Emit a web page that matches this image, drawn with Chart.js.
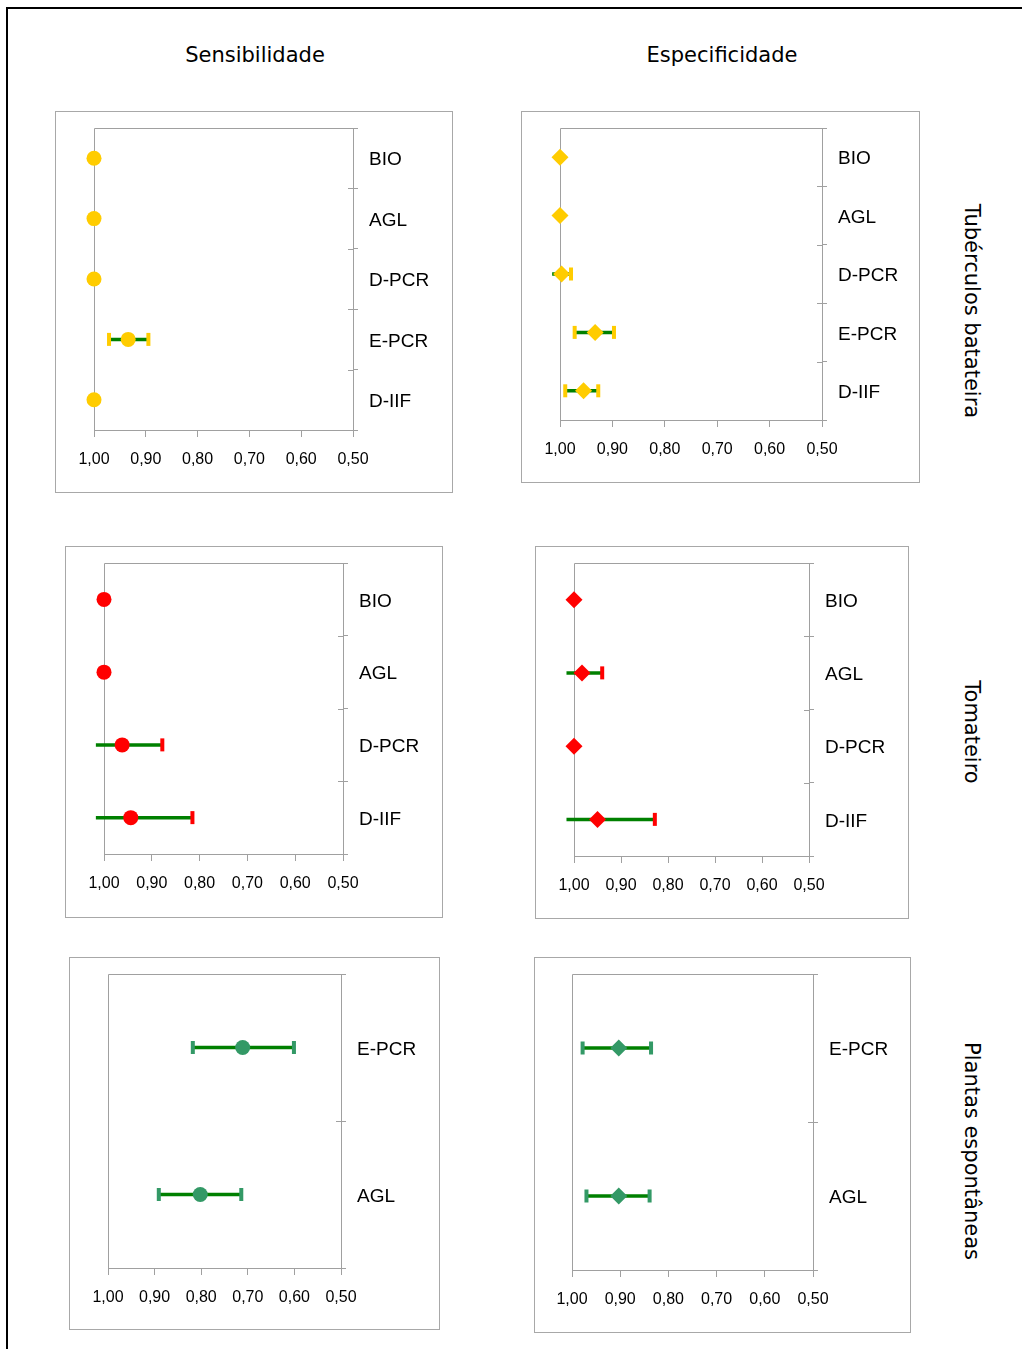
<!DOCTYPE html>
<html>
<head>
<meta charset="utf-8">
<script src="https://cdn.jsdelivr.net/npm/chart.js@4.4.1/dist/chart.umd.min.js"></script>
<style>
  html, body { margin: 0; padding: 0; background: #fff; }
  body { width: 1022px; height: 1349px; position: relative; overflow: hidden;
         font-family: 'DejaVu Sans', Verdana, sans-serif; color: #000; }
  .frame-top  { position: absolute; left: 6px; top: 7px; width: 1016px; height: 2px; background: #000; }
  .frame-left { position: absolute; left: 6px; top: 7px; width: 2px; height: 1342px; background: #000; }
  .col-title { position: absolute; top: 41px; font-size: 21px; line-height: 28px;
               transform: translateX(-50%); white-space: nowrap; }
  .row-title { position: absolute; font-size: 21px; line-height: 26px; white-space: nowrap;
               transform: translate(-50%, -50%) rotate(90deg); }
  canvas { position: absolute; }
</style>
</head>
<body>
<div class="frame-top"></div>
<div class="frame-left"></div>
<div class="col-title" style="left:255px">Sensibilidade</div>
<div class="col-title" style="left:722px">Especificidade</div>
<div class="row-title" style="left:972px; top:311px">Tubérculos batateira</div>
<div class="row-title" style="left:972px; top:732px">Tomateiro</div>
<div class="row-title" style="left:972px; top:1151px">Plantas espontâneas</div>

<canvas id="sensBat"></canvas>
<canvas id="specBat"></canvas>
<canvas id="sensTom"></canvas>
<canvas id="specTom"></canvas>
<canvas id="sensEsp"></canvas>
<canvas id="specEsp"></canvas>

<script>
// ---- Data: point estimates and confidence limits per test ----
const xTickValues = [1.00, 0.90, 0.80, 0.70, 0.60, 0.50];

// Tubérculos de batateira
const batCategories = ['BIO', 'AGL', 'D-PCR', 'E-PCR', 'D-IIF'];
const sensBatEstimate = [1.00, 1.00, 1.00, 0.934, 1.00];
const sensBatLower    = [null, null, null, 0.895, null];
const sensBatUpper    = [null, null, null, 0.971, null];
const specBatEstimate = [1.00, 1.00, 0.997, 0.933, 0.955];
const specBatLower    = [null, null, 0.979, 0.897, 0.927];
const specBatUpper    = [null, null, 1.015, 0.972, 0.990];

// Tomateiro
const tomCategories = ['BIO', 'AGL', 'D-PCR', 'D-IIF'];
const sensTomEstimate = [1.00, 1.00, 0.962, 0.944];
const sensTomLower    = [null, null, 0.878, 0.815];
const sensTomUpper    = [null, null, 1.017, 1.017];
const specTomEstimate = [1.00, 0.983, 1.00, 0.950];
const specTomLower    = [null, 0.940, null, 0.828];
const specTomUpper    = [null, 1.016, null, 1.016];

// Plantas espontâneas
const espCategories = ['E-PCR', 'AGL'];
const sensEspEstimate = [0.711, 0.802];
const sensEspLower    = [0.601, 0.714];
const sensEspUpper    = [0.818, 0.891];
const specEspEstimate = [0.903, 0.903];
const specEspLower    = [0.836, 0.839];
const specEspUpper    = [0.978, 0.970];

// ---- Styling ----
const GOLD = '#FFCC00', RED = '#FF0000', SEA = '#339966', BAR_GREEN = '#008000';
const AXIS_GRAY = '#a0a0a0', PANEL_BORDER = '#a8a8a8';
const LABEL_FONT = "'Liberation Sans', Arial, sans-serif";
const Y_AXIS_W = 95, X_AXIS_H = 45;

// Plot frame (left/top edges, inner halves of category ticks), panel border and error bars
const panelPlugin = {
  id: 'panelDecor',
  beforeDatasetsDraw(chart) {
    const { ctx, chartArea: { left, top, right, bottom } } = chart;
    ctx.save();
    ctx.strokeStyle = PANEL_BORDER;
    ctx.lineWidth = 1;
    ctx.strokeRect(0.5, 0.5, chart.width - 1, chart.height - 1);

    ctx.strokeStyle = AXIS_GRAY;
    ctx.beginPath();
    ctx.moveTo(Math.round(left) + 0.5, bottom);
    ctx.lineTo(Math.round(left) + 0.5, Math.round(top) + 0.5);
    ctx.lineTo(right, Math.round(top) + 0.5);
    const ys = chart.scales.y;
    for (let i = 1; i < ys.ticks.length; i++) {
      const yb = Math.round((ys.getPixelForTick(i - 1) + ys.getPixelForTick(i)) / 2) + 0.5;
      ctx.moveTo(right - 5, yb);
      ctx.lineTo(right, yb);
    }
    ctx.stroke();

    // confidence intervals
    const xs = chart.scales.x;
    chart.data.datasets.forEach((ds, di) => {
      const meta = chart.getDatasetMeta(di);
      (ds.ciLower || []).forEach((lo, i) => {
        const hi = ds.ciUpper[i];
        if (lo == null || hi == null) return;
        const y = meta.data[i].y;
        ctx.strokeStyle = BAR_GREEN;
        ctx.lineWidth = 3.5;
        ctx.beginPath();
        ctx.moveTo(xs.getPixelForValue(hi), y);
        ctx.lineTo(xs.getPixelForValue(lo), y);
        ctx.stroke();
        ctx.fillStyle = ds.pointBackgroundColor;
        [lo, hi].forEach(v => {
          if (v <= 1) {
            const xp = xs.getPixelForValue(v);
            ctx.fillRect(xp - 2, y - 6.5, 4, 13);
          }
        });
      });
    });
    ctx.restore();
  }
};

function makePanel(id, box, area, categories, estimate, lower, upper, color, shape) {
  const canvas = document.getElementById(id);
  const w = box[2] - box[0] + 1, h = box[3] - box[1] + 1;
  canvas.width = w; canvas.height = h;
  canvas.style.left = box[0] + 'px';
  canvas.style.top = box[1] + 'px';
  canvas.style.width = w + 'px';
  canvas.style.height = h + 'px';

  new Chart(canvas, {
    type: 'line',
    data: {
      labels: categories,
      datasets: [{
        data: estimate,
        ciLower: lower,
        ciUpper: upper,
        showLine: false,
        clip: false,
        pointStyle: shape,
        pointRadius: shape === 'circle' ? 7.5 : 8.5,
        pointBackgroundColor: color,
        pointBorderColor: color,
        pointBorderWidth: 0,
        borderColor: color,
        backgroundColor: color
      }]
    },
    options: {
      responsive: false,
      animation: false,
      indexAxis: 'y',
      layout: {
        padding: {
          left: area[0] - box[0],
          top: area[1] - box[1],
          right: w - (area[2] - box[0]) - Y_AXIS_W,
          bottom: h - (area[3] - box[1]) - X_AXIS_H
        }
      },
      plugins: { legend: { display: false }, tooltip: { enabled: false } },
      scales: {
        x: {
          type: 'linear',
          position: 'bottom',
          reverse: true,
          min: 0.5,
          max: 1.0,
          afterFit: s => { s.height = X_AXIS_H; s.paddingLeft = 0; s.paddingRight = 0; },
          afterBuildTicks: s => { s.ticks = xTickValues.map(v => ({ value: v })); },
          grid: { drawOnChartArea: false, drawTicks: true, tickLength: 7, color: AXIS_GRAY },
          border: { display: true, color: AXIS_GRAY },
          ticks: {
            color: '#000',
            padding: 13,
            maxRotation: 0,
            font: { family: LABEL_FONT, size: 16 },
            callback: v => Number(v).toFixed(2).replace('.', ',')
          }
        },
        y: {
          type: 'category',
          position: 'right',
          labels: categories,
          offset: true,
          afterFit: s => { s.width = Y_AXIS_W; s.paddingTop = 0; s.paddingBottom = 0; },
          grid: { offset: true, drawOnChartArea: false, drawTicks: true, tickLength: 5, color: AXIS_GRAY },
          border: { display: true, color: AXIS_GRAY },
          ticks: {
            color: '#000',
            padding: 11,
            labelOffset: 2,
            font: { family: LABEL_FONT, size: 19 }
          }
        }
      }
    },
    plugins: [panelPlugin]
  });
}

makePanel('sensBat', [55, 111, 452, 492], [94, 128, 353, 430],
          batCategories, sensBatEstimate, sensBatLower, sensBatUpper, GOLD, 'circle');
makePanel('specBat', [521, 111, 919, 482], [560, 128, 822, 420],
          batCategories, specBatEstimate, specBatLower, specBatUpper, GOLD, 'rectRot');
makePanel('sensTom', [65, 546, 442, 917], [104, 563, 343, 854],
          tomCategories, sensTomEstimate, sensTomLower, sensTomUpper, RED, 'circle');
makePanel('specTom', [535, 546, 908, 918], [574, 563, 809, 856],
          tomCategories, specTomEstimate, specTomLower, specTomUpper, RED, 'rectRot');
makePanel('sensEsp', [69, 957, 439, 1329], [108, 974, 341, 1268],
          espCategories, sensEspEstimate, sensEspLower, sensEspUpper, SEA, 'circle');
makePanel('specEsp', [534, 957, 910, 1332], [572, 974, 813, 1270],
          espCategories, specEspEstimate, specEspLower, specEspUpper, SEA, 'rectRot');
</script>
</body>
</html>
